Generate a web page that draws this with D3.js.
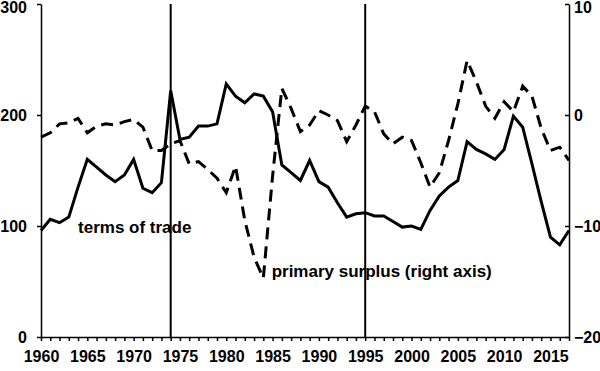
<!DOCTYPE html>
<html>
<head>
<meta charset="utf-8">
<script src="https://cdn.jsdelivr.net/npm/d3@7"></script>
<style>
  body { margin: 0; background: #fff; }
  svg { display: block; }
  .axis text { font-family: "Liberation Sans", Arial, sans-serif; font-weight: bold; font-size: 16px; fill: #000; }
  .axis path, .axis line { stroke: #000; stroke-width: 1.5; }
  .note { font-family: "Liberation Sans", Arial, sans-serif; font-weight: bold; font-size: 17px; fill: #000; }
</style>
</head>
<body>
<div id="chart"></div>
<script>
var width = 600
var height = 371

// years 1960..2017
var years = d3.range(1960, 2018)

// terms of trade (left axis)
var termsOfTrade = [96, 106, 103, 108, 135, 160, 153, 146, 140, 146,
  160, 134, 130, 139, 222, 178, 180, 190, 190, 192,
  228, 217, 211, 219, 217, 203, 155, 148, 141, 159,
  140, 135, 121, 108, 111, 112, 109, 109, 104, 99,
  100, 97, 114, 127, 135, 141, 176, 169, 165, 160,
  169, 199, 189, 156, 122, 90, 83, 96]

// primary surplus (right axis)
var primarySurplus = [-2.0, -1.6, -0.8, -0.7, -0.3, -1.6, -1.0, -0.8, -0.9, -0.6,
  -0.4, -1.1, -3.2, -3.2, -2.6, -2.3, -4.4, -4.2, -4.9, -5.7,
  -7.0, -4.6, -9.5, -12.8, -14.7, -5.5, 2.4, 0.6, -1.5, -0.9,
  0.4, 0.0, -0.5, -2.4, -0.9, 0.8, 0.3, -1.7, -2.6, -2.0,
  -2.3, -4.3, -6.5, -5.2, -2.3, 1.0, 4.9, 3.0, 0.8, -0.3,
  1.2, 0.3, 2.6, 1.7, -1.2, -3.2, -2.9, -4.1]

var markerYears = [1974, 1995]
var leftTicks = [0, 100, 200, 300]
var rightTicks = [-20, -10, 0, 10]
var labelYears = d3.range(1960, 2016, 5)

var margin = { top: 4, right: 31, bottom: 34, left: 41 }

var xScale = d3.scaleLinear()
  .domain([1960, 2017])
  .range([margin.left, width - margin.right])

var yLeft = d3.scaleLinear()
  .domain([0, 300])
  .range([height - margin.bottom, margin.top])

var yRight = d3.scaleLinear()
  .domain([-20, 10])
  .range([height - margin.bottom, margin.top])

var svg = d3.select('#chart')
  .append('svg')
  .attr('width', width)
  .attr('height', height)

// event lines
svg.append('g')
  .selectAll('line')
  .data(markerYears)
  .join('line')
  .attr('x1', d => xScale(d))
  .attr('x2', d => xScale(d))
  .attr('y1', yLeft(300))
  .attr('y2', yLeft(0))
  .style('stroke', '#000')
  .style('stroke-width', 2)

// left axis
var leftG = svg.append('g')
  .attr('class', 'axis')
  .attr('transform', `translate(${margin.left},0)`)
  .call(d3.axisLeft(yLeft).tickValues(leftTicks).tickSize(4).tickSizeOuter(0).tickPadding(10))

// right axis, ticks pointing inward
var rightG = svg.append('g')
  .attr('class', 'axis')
  .attr('transform', `translate(${width - margin.right},0)`)
  .call(d3.axisRight(yRight).tickValues(rightTicks).tickSize(-4).tickSizeOuter(0).tickPadding(5))
rightG.selectAll('text').attr('x', 5)

// top labels sit at the very edge; nudge them down so they stay on the page
leftG.selectAll('.tick text').filter(d => d === 300).attr('dy', '0.55em')
rightG.selectAll('.tick text').filter(d => d === 10).attr('dy', '0.55em')

// bottom axis, a tick every year, label every 5
svg.append('g')
  .attr('class', 'axis')
  .attr('transform', `translate(0,${height - margin.bottom})`)
  .call(d3.axisBottom(xScale)
    .tickValues(years)
    .tickSize(4)
    .tickSizeOuter(0)
    .tickPadding(10)
    .tickFormat(d => labelYears.indexOf(d) >= 0 ? d : ''))

var lineLeft = d3.line()
  .x((d, i) => xScale(years[i]))
  .y(d => yLeft(d))

var lineRight = d3.line()
  .x((d, i) => xScale(years[i]))
  .y(d => yRight(d))

svg.append('path')
  .datum(primarySurplus)
  .attr('d', lineRight)
  .style('fill', 'none')
  .style('stroke', '#000')
  .style('stroke-width', 3)
  .style('stroke-dasharray', '12,7')

svg.append('path')
  .datum(termsOfTrade)
  .attr('d', lineLeft)
  .style('fill', 'none')
  .style('stroke', '#000')
  .style('stroke-width', 3)

// annotations
svg.append('text')
  .attr('class', 'note')
  .attr('x', xScale(1964))
  .attr('y', yLeft(93.7))
  .text('terms of trade')

svg.append('text')
  .attr('class', 'note')
  .attr('x', xScale(1984.9))
  .attr('y', yRight(-14.6))
  .text('primary surplus (right axis)')
</script>
</body>
</html>
